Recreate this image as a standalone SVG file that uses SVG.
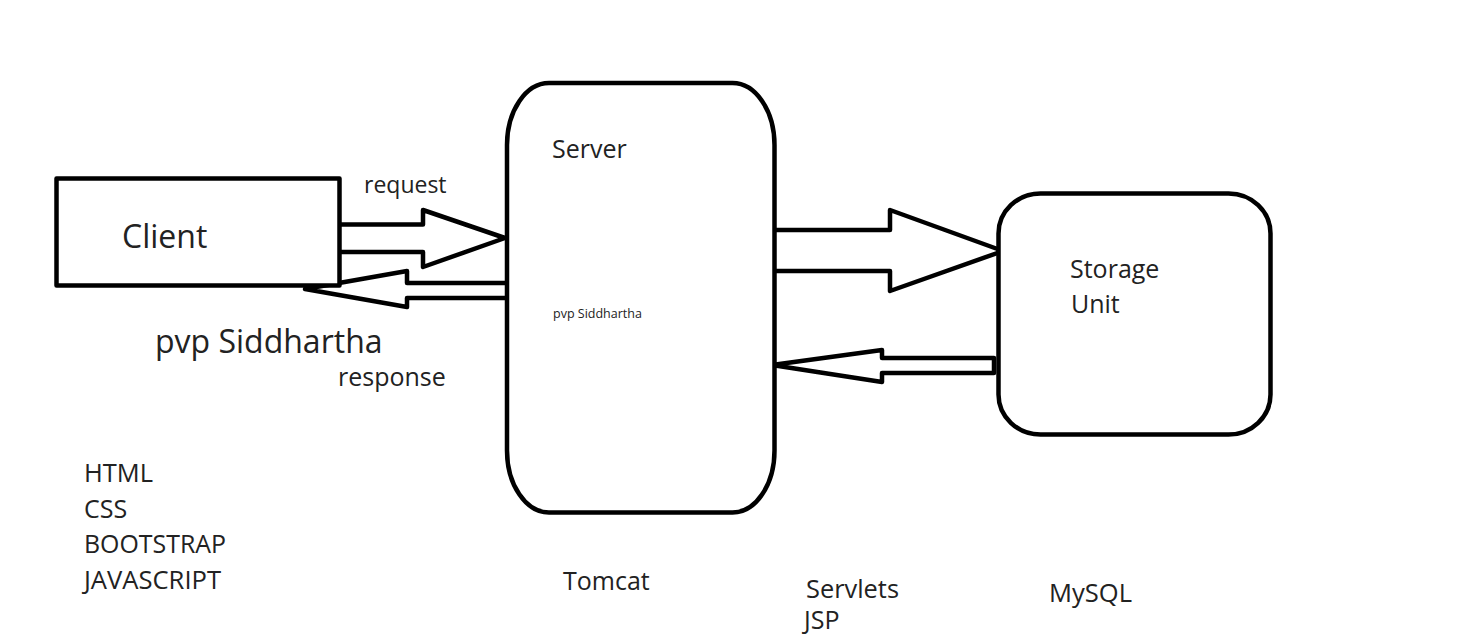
<svg xmlns="http://www.w3.org/2000/svg" width="1469" height="640" viewBox="0 0 1469 640">
  <style>
    .shape { fill: #ffffff; stroke: #000000; stroke-width: 4.5; stroke-linejoin: round; }
    .arrow { fill: #ffffff; stroke: #000000; stroke-width: 4.5; stroke-linejoin: round; }
    .label { font-family: "Open Sans", "Noto Sans", sans-serif; fill: #222222; }
    .note { font-size: 25px; }
  </style>
  <rect x="0" y="0" width="1469" height="640" fill="#ffffff"/>

  <!-- Connectors: block arrows between the tiers -->
  <g id="connectors">
    <polyline id="request-arrow" class="arrow" points="341,224.5 423,224.5 423,210 505,238 423,267 423,252 341,252"/>
    <polyline id="response-arrow" class="arrow" points="507,283 407,283 407,271 305,289 407,307 407,298 507,298"/>
    <polyline id="store-arrow" class="arrow" points="776,230 890,230 890,210 1003,251 890,291 890,271 776,271"/>
    <polygon id="fetch-arrow" class="arrow" points="994,358 882,358 882,350 772,365 882,382 882,373 994,373"/>
  </g>

  <!-- Client -->
  <g id="client">
    <rect class="shape" x="56.5" y="178.5" width="283" height="107"/>
    <text class="label" x="122" y="248" font-size="32">Client</text>
  </g>

  <!-- Server -->
  <g id="server">
    <rect class="shape" x="507" y="83" width="267.5" height="429.5" rx="42" ry="62"/>
    <text class="label" x="552" y="158" font-size="25">Server</text>
    <text class="label" x="553" y="318" font-size="12.5">pvp Siddhartha</text>
  </g>

  <!-- Storage unit -->
  <g id="storage">
    <rect class="shape" x="998.5" y="193.5" width="272" height="241" rx="42" ry="40"/>
    <text class="label" x="1070" y="278" font-size="25">Storage</text>
    <text class="label" x="1071" y="313" font-size="25">Unit</text>
  </g>

  <!-- Connector labels -->
  <g id="labels">
    <text class="label" x="364" y="193" font-size="23">request</text>
    <text class="label" x="338" y="386" font-size="25">response</text>
    <text class="label" x="155" y="353" font-size="32">pvp Siddhartha</text>
  </g>

  <!-- Technology notes -->
  <g id="client-tech">
    <text class="label note" x="84" y="482" textLength="69" lengthAdjust="spacingAndGlyphs">HTML</text>
    <text class="label note" x="84" y="517.5">CSS</text>
    <text class="label note" x="84" y="553" textLength="142" lengthAdjust="spacingAndGlyphs">BOOTSTRAP</text>
    <text class="label note" x="84" y="588.5" textLength="137" lengthAdjust="spacingAndGlyphs">JAVASCRIPT</text>
  </g>
  <g id="server-tech">
    <text class="label note" x="563" y="590">Tomcat</text>
    <text class="label note" x="806" y="598" textLength="93" lengthAdjust="spacingAndGlyphs">Servlets</text>
    <text class="label note" x="804" y="629">JSP</text>
  </g>
  <g id="storage-tech">
    <text class="label note" x="1049" y="602" textLength="83" lengthAdjust="spacingAndGlyphs">MySQL</text>
  </g>
</svg>
